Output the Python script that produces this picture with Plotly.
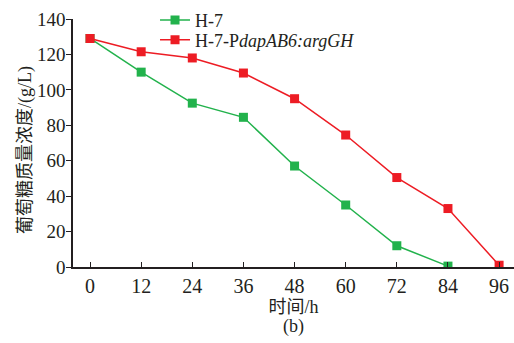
import plotly.graph_objects as go

time_h = [0, 12, 24, 36, 48, 60, 72, 84, 96]
h7 = [129, 110, 92.5, 84.5, 57, 35, 12, 0.5]
h7_dap = [129, 121.5, 118, 109.5, 95, 74.5, 50.5, 33, 1]
x_ticks = [0, 12, 24, 36, 48, 60, 72, 84, 96]
y_ticks = [0, 20, 40, 60, 80, 100, 120, 140]

FONT = "Liberation Serif, Times New Roman, Noto Sans CJK SC, serif"
GREEN = "#22b24c"
RED = "#ed1c24"

fig = go.Figure()
fig.add_trace(go.Scatter(x=time_h[:len(h7)], y=h7, mode="lines+markers", name="H-7",
                         line=dict(color=GREEN, width=1.5),
                         marker=dict(symbol="square", size=9, color=GREEN),
                         legend="legend"))
fig.add_trace(go.Scatter(x=time_h, y=h7_dap, mode="lines+markers",
                         name="H-7-P<i>dapAB6:argGH</i>",
                         line=dict(color=RED, width=1.5),
                         marker=dict(symbol="square", size=9, color=RED),
                         legend="legend2"))

leg_common = dict(xanchor="left", yanchor="middle", bgcolor="rgba(0,0,0,0)",
                  font=dict(size=18), borderwidth=0)

fig.update_layout(
    width=514, height=343,
    margin=dict(l=73, r=0, t=19, b=76),
    paper_bgcolor="white", plot_bgcolor="white",
    font=dict(family=FONT, size=18, color="#231f20"),
    showlegend=True,
    legend=dict(x=0.186, y=0.995, **leg_common),
    legend2=dict(x=0.186, y=0.915, **leg_common),
    xaxis=dict(range=[-4, 99.5], tickvals=x_ticks, ticks="inside", ticklen=5,
               tickcolor="#231f20", showline=True, linecolor="#231f20", linewidth=1.5,
               showgrid=False, zeroline=False, tickfont=dict(size=20), automargin=False,
               title=dict(text="时间/h", font=dict(size=18), standoff=2)),
    yaxis=dict(range=[0, 140], tickvals=y_ticks, ticks="outside", ticklen=5,
               tickcolor="#231f20", showline=True, linecolor="#231f20", linewidth=1.5,
               showgrid=False, zeroline=False, tickfont=dict(size=19), automargin=False,
               ticklabelstandoff=-3),
)
fig.add_annotation(text="葡萄糖质量浓度/(g/L)", x=-48 / 441, y=(267 - 150) / 248,
                   xref="paper", yref="paper", textangle=-90,
                   xanchor="center", yanchor="middle", showarrow=False,
                   font=dict(size=18, family=FONT))
fig.add_annotation(text="(b)", x=0.5, y=-0.238, xref="paper", yref="paper",
                   xanchor="center", yanchor="middle", showarrow=False,
                   font=dict(size=18, family=FONT))
fig.write_html("out.html", config={"displayModeBar": False},
               post_script="document.body.style.margin='0';document.body.style.overflow='hidden';")
